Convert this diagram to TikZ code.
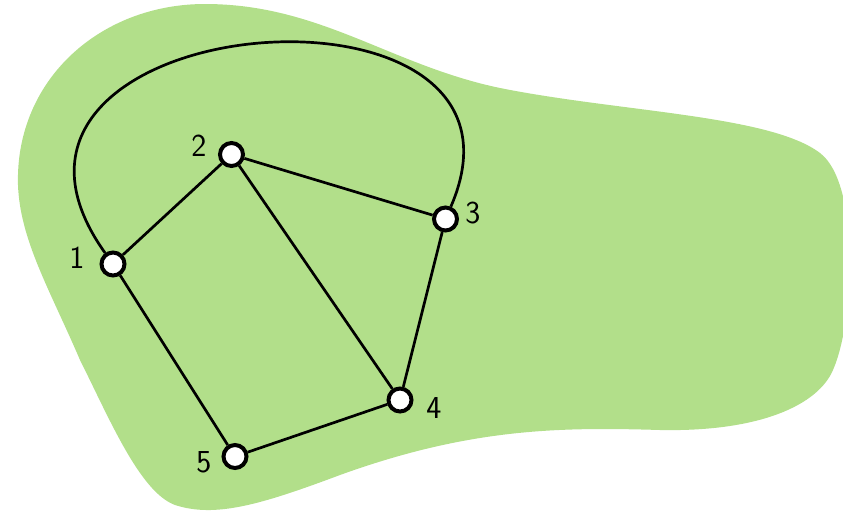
\documentclass[tikz,border=0pt]{standalone}
\definecolor{blobgreen}{HTML}{B2DF8A}
\tikzset{
  vertex/.style={circle, draw=black, fill=white, line width=4pt, inner sep=0pt, minimum size=23pt},
  vlabel/.style={font=\fontsize{32}{38}\selectfont\sffamily, inner sep=0pt},
  edge/.style={line width=2.7pt, draw=black}
}
\begin{document}
\begin{tikzpicture}[x=1pt,y=-1pt]
  \useasboundingbox (0,0) rectangle (843,515);
  % region behind the graph
  \fill[blobgreen] (18,185)
    .. controls (15,80) and (100,4) .. (205,4)
    .. controls (320,4) and (390,65) .. (500,88)
    .. controls (620,112) and (770,115) .. (820,153)
    .. controls (860,183) and (855,320) .. (833,370)
    .. controls (818,405) and (760,432) .. (660,430)
    .. controls (560,427) and (470,428) .. (340,475)
    .. controls (260,505) and (215,518) .. (175,505)
    .. controls (140,492) and (110,420) .. (80,360)
    .. controls (50,290) and (20,240) .. (18,185) -- cycle;
  % vertices
  \node[vertex] (n1) at (113,264) {};
  \node[vertex] (n2) at (231.5,154.5) {};
  \node[vertex] (n3) at (445.5,219) {};
  \node[vertex] (n4) at (400,400) {};
  \node[vertex] (n5) at (235,456.5) {};
  % vertex labels
  \node[vlabel] (l1) at (77,258) {1};
  \node[vlabel] (l2) at (199,146) {2};
  \node[vlabel] (l3) at (473,213) {3};
  \node[vlabel] (l4) at (434,408) {4};
  \node[vlabel] (l5) at (204,462) {5};
  % edges
  \coordinate (c1) at (-70,8);
  \coordinate (c2) at (560,-45);
  \draw[edge] (n1) -- (n2);
  \draw[edge] (n2) -- (n3);
  \draw[edge] (n2) -- (n4);
  \draw[edge] (n3) -- (n4);
  \draw[edge] (n1) -- (n5);
  \draw[edge] (n5) -- (n4);
  \draw[edge] (n1) .. controls (c1) and (c2) .. (n3);
\end{tikzpicture}
\end{document}
